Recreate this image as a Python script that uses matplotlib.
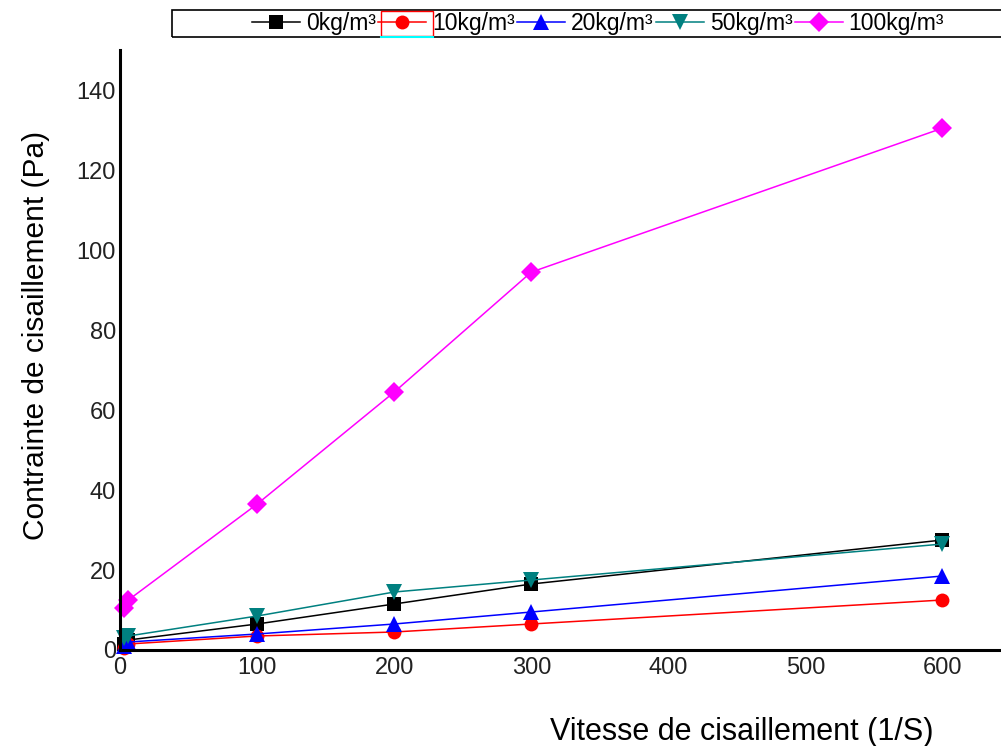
import matplotlib.pyplot as plt
from matplotlib.patches import Rectangle
from matplotlib.lines import Line2D

plt.rcParams['font.family'] = ['Liberation Sans', 'DejaVu Sans']

# shear rates (Fann readings) and shear stress for each dosage
shear_rate = [3, 6, 100, 200, 300, 600]
stress_0 = [1.5, 2.5, 6.5, 11.5, 16.5, 27.5]
stress_10 = [0.5, 1.5, 3.5, 4.5, 6.5, 12.5]
stress_20 = [1.0, 2.0, 4.0, 6.5, 9.5, 18.5]
stress_50 = [3.0, 3.5, 8.5, 14.5, 17.5, 26.5]
stress_100 = [10.5, 12.5, 36.5, 64.5, 94.5, 130.5]

labels = ['0kg/m³', '10kg/m³', '20kg/m³', '50kg/m³', '100kg/m³']
series = [stress_0, stress_10, stress_20, stress_50, stress_100]
colors = ['black', '#ff0000', '#0000ff', '#008080', '#ff00ff']
markers = ['s', 'o', '^', 'v', 'D']
msizes = [10, 10, 11, 11, 10]

x_ticks = [0, 100, 200, 300, 400, 500, 600]
y_ticks = [0, 20, 40, 60, 80, 100, 120, 140]

fig = plt.figure(figsize=(10.01, 7.46), dpi=100)
ax = fig.add_axes([0.12, 0.1287, 0.879, 0.804])

handles = []
for ys, c, m, ms, lab in zip(series, colors, markers, msizes, labels):
    h, = ax.plot(shear_rate, ys, color=c, marker=m, markersize=ms,
                 linewidth=1.1, markeredgewidth=0, label=lab, clip_on=False)
    handles.append(h)

ax.set_xlim(0, 642)
ax.set_ylim(0, 150)
ax.set_xticks(x_ticks)
ax.set_yticks(y_ticks)
ax.tick_params(length=0, labelsize=17, colors='#222222')
ax.tick_params(axis='x', pad=5)
ax.tick_params(axis='y', pad=3)
for s in ['top', 'right']:
    ax.spines[s].set_visible(False)
for s in ['left', 'bottom']:
    ax.spines[s].set_linewidth(2.2)

fig.text(36 / 1001, 1 - 335 / 746, 'Contrainte de cisaillement (Pa)',
         fontsize=21.5, rotation=90, ha='center', va='center')
fig.text(742 / 1001, 1 - 732 / 746, 'Vitesse de cisaillement (1/S)',
         fontsize=22, ha='center', va='center')

# legend frame across the top
fig.patches.append(Rectangle((172 / 1001, 1 - 37 / 746), 830 / 1001, 27 / 746,
                             transform=fig.transFigure, fill=False,
                             edgecolor='black', linewidth=1.2))
leg = fig.legend(handles=handles, loc='center left',
                 bbox_to_anchor=(252 / 1001, 1 - 23.5 / 746), ncol=5,
                 frameon=False, fontsize=16.5, handlelength=2.1,
                 handletextpad=0.25, columnspacing=0.1, borderpad=0,
                 borderaxespad=0)
# highlight box around the second legend handle
fig.patches.append(Rectangle((381 / 1001, 1 - 36 / 746), 52 / 1001, 25 / 746,
                             transform=fig.transFigure, fill=False,
                             edgecolor='#ff0000', linewidth=1))
fig.lines.append(Line2D([381 / 1001, 433 / 1001], [1 - 37 / 746, 1 - 37 / 746],
                        transform=fig.transFigure, color='cyan', linewidth=1.5))

fig.savefig('out.png', dpi=100)
